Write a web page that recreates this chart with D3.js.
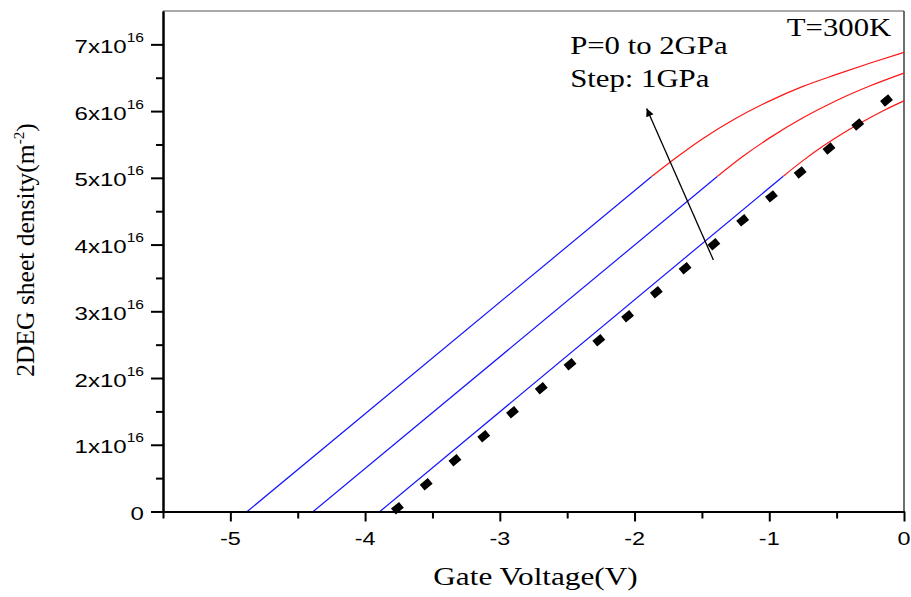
<!DOCTYPE html>
<html><head><meta charset="utf-8">
<script src="https://cdn.jsdelivr.net/npm/d3@7/dist/d3.min.js"></script>
<style>body{margin:0;background:#fff}svg{display:block}</style>
</head><body>
<svg id="chart" width="911" height="597"></svg>
<script>
// ---------- data (V in volts, n in 1e16 m^-2) ----------
const xTickValues = [-5, -4, -3, -2, -1, 0];
const xTickLabels = ["-5", "-4", "-3", "-2", "-1", "0"];
const xMinorTicks = [-5.5, -4.5, -3.5, -2.5, -1.5, -0.5];
const yTickValues = [0, 1, 2, 3, 4, 5, 6, 7];
const yTickMantissa = ["0", "1x10", "2x10", "3x10", "4x10", "5x10", "6x10", "7x10"];
const yTickExponent = ["", "16", "16", "16", "16", "16", "16", "16"];
const yMinorTicks = [0.5, 1.5, 2.5, 3.5, 4.5, 5.5, 6.5];

// P = 2 GPa
const p2Linear = [[-4.875, 0], [-1.873, 5.02]];
const p2Saturated = [[-1.873, 5.02], [-1.7, 5.29], [-1.5, 5.58], [-1.25, 5.89], [-1.0, 6.15], [-0.75, 6.37], [-0.5, 6.55], [-0.25, 6.72], [0, 6.88]];
// P = 1 GPa
const p1Linear = [[-4.385, 0], [-1.386, 5.02]];
const p1Saturated = [[-1.386, 5.02], [-1.2, 5.315], [-1.0, 5.595], [-0.75, 5.90], [-0.5, 6.16], [-0.25, 6.38], [0, 6.57]];
// P = 0 GPa
const p0Linear = [[-3.89, 0], [-0.896, 5.025]];
const p0Saturated = [[-0.896, 5.025], [-0.75, 5.258], [-0.6, 5.476], [-0.45, 5.672], [-0.3, 5.849], [-0.15, 6.01], [0, 6.153]];
// thick dashed reference line
const referenceLine = [[-3.79, 0], [-0.10, 6.21]];
// annotation arrow (tail -> head)
const arrowPoints = [[-1.415, 3.77], [-1.91, 6.04]];

const annotations = [
  {text: "T=300K", v: -0.87, n: 7.13},
  {text: "P=0 to 2GPa", v: -2.478, n: 6.85},
  {text: "Step: 1GPa", v: -2.478, n: 6.36}
];

// ---------- chart ----------
const svg = d3.select("#chart");
const x = d3.scaleLinear().domain([-5.5, 0]).range([163, 904]);
const y = d3.scaleLinear().domain([0, 7.5]).range([511.5, 11]);

const line = d3.line().x(d => x(d[0])).y(d => y(d[1]));
const curve = d3.line().x(d => x(d[0])).y(d => y(d[1])).curve(d3.curveMonotoneX);

// frame top/right
svg.append("line").attr("x1", x(-5.5)).attr("x2", x(0)).attr("y1", y(7.5)).attr("y2", y(7.5))
  .attr("stroke", "#555").attr("stroke-width", 1.2);
svg.append("line").attr("x1", x(0)).attr("x2", x(0)).attr("y1", y(7.5)).attr("y2", y(0))
  .attr("stroke", "#333").attr("stroke-width", 1.4);

// data lines
const blue = "#1515ff", red = "#ff1515";
[[p2Linear, blue], [p1Linear, blue], [p0Linear, blue]].forEach(([d, c]) =>
  svg.append("path").attr("d", line(d)).attr("fill", "none").attr("stroke", c).attr("stroke-width", 1.2));
[[p2Saturated, red], [p1Saturated, red], [p0Saturated, red]].forEach(([d, c]) =>
  svg.append("path").attr("d", curve(d)).attr("fill", "none").attr("stroke", c).attr("stroke-width", 1.2));

const ref = svg.append("path").attr("d", line(referenceLine)).attr("fill", "none")
  .attr("stroke", "#000").attr("stroke-width", 7.5);
const L = ref.node().getTotalLength();
const dashLen = 10.5, nDash = 18;
ref.attr("stroke-dasharray", `${dashLen},${(L - nDash * dashLen) / (nDash - 1)}`);

// arrow
svg.append("defs").append("marker").attr("id", "ah").attr("viewBox", "0 0 10 10")
  .attr("refX", 10).attr("refY", 5).attr("markerWidth", 14).attr("markerHeight", 8)
  .attr("markerUnits", "userSpaceOnUse").attr("orient", "auto")
  .append("path").attr("d", "M0,0 L10,5 L0,10 Z").attr("fill", "#000");
svg.append("path").attr("d", line(arrowPoints)).attr("stroke", "#000").attr("stroke-width", 1.3)
  .attr("fill", "none").attr("marker-end", "url(#ah)");

// axes
const yAxis = svg.append("g").attr("transform", `translate(${x(-5.5)},0)`)
  .call(d3.axisLeft(y).tickValues(yTickValues).tickSize(12).tickSizeOuter(0).tickFormat(""));
const yMinor = svg.append("g").attr("transform", `translate(${x(-5.5)},0)`)
  .call(d3.axisLeft(y).tickValues(yMinorTicks).tickSize(7).tickSizeOuter(0).tickFormat(""));
const xAxis = svg.append("g").attr("transform", `translate(0,${y(0)})`)
  .call(d3.axisBottom(x).tickValues(xTickValues).tickSize(10).tickSizeOuter(0).tickFormat(""));
const xMinor = svg.append("g").attr("transform", `translate(0,${y(0)})`)
  .call(d3.axisBottom(x).tickValues(xMinorTicks).tickSize(7).tickSizeOuter(0).tickFormat(""));
[yAxis, yMinor, xAxis, xMinor].forEach(g => {
  g.selectAll("path,line").attr("stroke", "#000").attr("stroke-width", 2);
});

const sansFont = "'Liberation Sans', Arial, sans-serif";
const serifFont = "'Liberation Serif', 'Times New Roman', serif";

// y tick labels
yTickValues.forEach((v, i) => {
  const t = svg.append("text").attr("text-anchor", "end")
    .attr("transform", `translate(144,${y(v) + 8.5}) scale(1.3,1)`)
    .attr("font-family", sansFont).attr("font-size", 18.5).attr("fill", "#000");
  t.append("tspan").text(yTickMantissa[i]);
  if (yTickExponent[i]) t.append("tspan").attr("dy", -11).attr("font-size", 12).text(yTickExponent[i]);
});
// x tick labels
xTickValues.forEach((v, i) => {
  svg.append("text").attr("text-anchor", "middle")
    .attr("transform", `translate(${x(v)},545) scale(1.3,1)`)
    .attr("font-family", sansFont).attr("font-size", 18).attr("fill", "#000").text(xTickLabels[i]);
});

// axis titles
svg.append("text").attr("text-anchor", "middle")
  .attr("transform", `translate(${(x(-5.5) + x(0)) / 2 + 2},585) scale(1.25,1)`)
  .attr("font-family", serifFont).attr("font-size", 25).attr("fill", "#000").text("Gate Voltage(V)");
const yt = svg.append("text").attr("text-anchor", "middle")
  .attr("transform", `translate(34,250) rotate(-90)`)
  .attr("font-family", serifFont).attr("font-size", 25.5).attr("fill", "#000");
yt.append("tspan").text("2DEG sheet density(m");
yt.append("tspan").attr("dy", -10).attr("font-size", 15).text("-2");
yt.append("tspan").attr("dy", 10).text(")");

// annotations
annotations.forEach(a => {
  svg.append("text").attr("transform", `translate(${x(a.v)},${y(a.n)}) scale(1.23,1)`)
    .attr("font-family", serifFont).attr("font-size", 25).attr("fill", "#000").text(a.text);
});
</script>
</body></html>
